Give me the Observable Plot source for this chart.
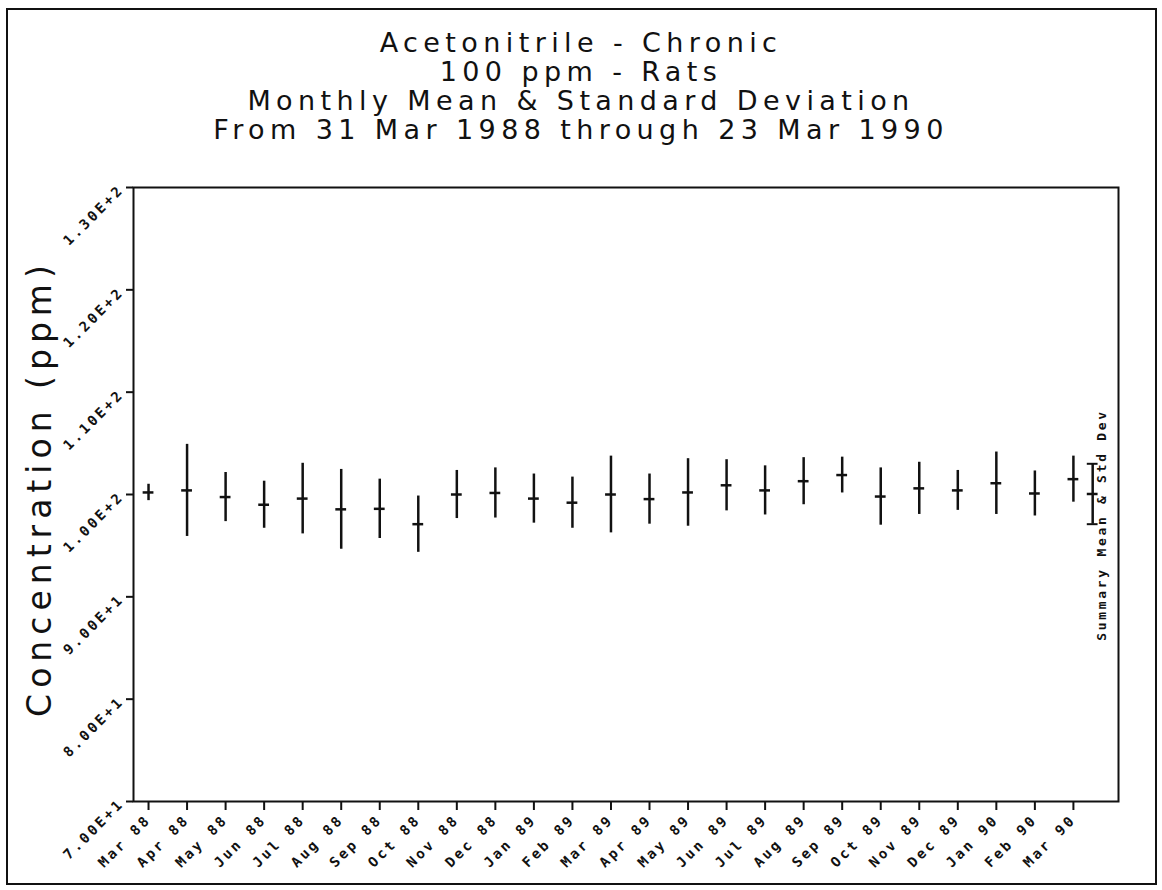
<!DOCTYPE html>
<html>
<head>
<meta charset="utf-8">
<script src="https://cdn.jsdelivr.net/npm/d3@7"></script>
<script src="https://cdn.jsdelivr.net/npm/@observablehq/plot@0.6"></script>
<style>
  body { margin: 0; background: #fff; }
  #page { position: relative; width: 1162px; height: 890px; overflow: hidden; background: #fff; }
  #border { position: absolute; left: 6px; top: 8px; width: 1151px; height: 877px; border: 2px solid #111; box-sizing: border-box; }
  .title { position: absolute; left: 0; width: 1162px; text-align: center; font-family: "DejaVu Sans", sans-serif; font-size: 27px; letter-spacing: 5.4px; line-height: 29px; color: #111; white-space: nowrap; }
  #ylabel { position: absolute; left: -210px; top: 468px; width: 500px; height: 40px; line-height: 40px; text-align: center; transform: rotate(-90deg); transform-origin: 50% 50%; font-family: "DejaVu Sans", sans-serif; font-size: 33px; letter-spacing: 6px; color: #111; white-space: nowrap; }
  #summary { position: absolute; left: 952px; top: 515px; width: 300px; height: 20px; line-height: 20px; text-align: center; transform: rotate(-90deg); transform-origin: 50% 50%; font-family: "DejaVu Sans Mono", monospace; font-weight: bold; font-size: 13px; letter-spacing: 2.7px; color: #111; white-space: nowrap; }
  #chart { position: absolute; left: 0; top: 150px; }
  #chart svg g[aria-label$="tick label"] { font-family: "DejaVu Sans Mono", monospace; font-weight: bold; font-size: 14px; letter-spacing: 2.8px; }
</style>
</head>
<body>
<div id="page">
  <div id="border"></div>
  <div class="title" style="top:28px">Acetonitrile - Chronic</div>
  <div class="title" style="top:57px">100 ppm - Rats</div>
  <div class="title" style="top:86px">Monthly Mean &amp; Standard Deviation</div>
  <div class="title" style="top:115px">From 31 Mar 1988 through 23 Mar 1990</div>
  <div id="ylabel">Concentration (ppm)</div>
  <div id="chart"></div>
  <div id="summary">Summary Mean &amp; Std Dev</div>
</div>
<script>
const months = ["Mar 88","Apr 88","May 88","Jun 88","Jul 88","Aug 88","Sep 88","Oct 88","Nov 88","Dec 88",
  "Jan 89","Feb 89","Mar 89","Apr 89","May 89","Jun 89","Jul 89","Aug 89","Sep 89","Oct 89","Nov 89","Dec 89",
  "Jan 90","Feb 90","Mar 90"];
const means = [100.2, 100.4, 99.75, 99.0, 99.6, 98.55, 98.6, 97.1, 100.0, 100.15,
  99.6, 99.2, 100.0, 99.55, 100.2, 100.9, 100.4, 101.3, 101.9, 99.8, 100.6, 100.4,
  101.1, 100.1, 101.5];
const sds = [0.8, 4.5, 2.4, 2.3, 3.45, 3.9, 2.9, 2.75, 2.35, 2.45,
  2.4, 2.5, 3.75, 2.45, 3.3, 2.5, 2.4, 2.3, 1.75, 2.8, 2.55, 1.95,
  3.05, 2.2, 2.25];
const summaryMean = 100.05;
const summarySd = 2.95;
const summaryPos = 24.5;
const yTicks = [70, 80, 90, 100, 110, 120, 130];
const yTickLabels = ["7.00E+1","8.00E+1","9.00E+1","1.00E+2","1.10E+2","1.20E+2","1.30E+2"];

const data = months.map((m, i) => ({i, m, mean: means[i], sd: sds[i]}));
const summary = [{i: summaryPos, mean: summaryMean, sd: summarySd}];
const half = 0.14;

const chart = Plot.plot({
  width: 1162,
  height: 730,
  marginLeft: 133,
  marginRight: 44,
  marginTop: 37,
  marginBottom: 79,
  style: {background: "transparent", color: "#111"},
  x: {domain: [-0.39, 25.17], axis: null},
  y: {domain: [70, 130], axis: null},
  marks: [
    Plot.frame({stroke: "#111", strokeWidth: 2}),
    Plot.axisY({anchor: "left", ticks: yTicks, tickFormat: d => yTickLabels[yTicks.indexOf(d)],
      tickRotate: -45, tickSize: 7, tickPadding: 5, strokeWidth: 2, label: null, fill: "#111"}),
    Plot.axisX({anchor: "bottom", ticks: d3.range(months.length), tickFormat: d => months[d],
      tickRotate: -45, tickSize: 9, tickPadding: 7, strokeWidth: 2, label: null, fill: "#111"}),
    Plot.ruleX(data, {x: "i", y1: d => d.mean - d.sd, y2: d => d.mean + d.sd, stroke: "#111", strokeWidth: 2.5}),
    Plot.ruleY(data, {y: "mean", x1: d => d.i - half, x2: d => d.i + half, stroke: "#111", strokeWidth: 2.5}),
    Plot.ruleX(summary, {x: "i", y1: d => d.mean - d.sd, y2: d => d.mean + d.sd, stroke: "#111", strokeWidth: 2.5}),
    Plot.ruleY(summary, {y: "mean", x1: d => d.i - half, x2: d => d.i + half, stroke: "#111", strokeWidth: 2.5}),
    Plot.ruleY(summary, {y: d => d.mean + d.sd, x1: d => d.i - half, x2: d => d.i + half, stroke: "#111", strokeWidth: 2}),
    Plot.ruleY(summary, {y: d => d.mean - d.sd, x1: d => d.i - half, x2: d => d.i + half, stroke: "#111", strokeWidth: 2})
  ]
});
document.getElementById("chart").appendChild(chart);
</script>
</body>
</html>
